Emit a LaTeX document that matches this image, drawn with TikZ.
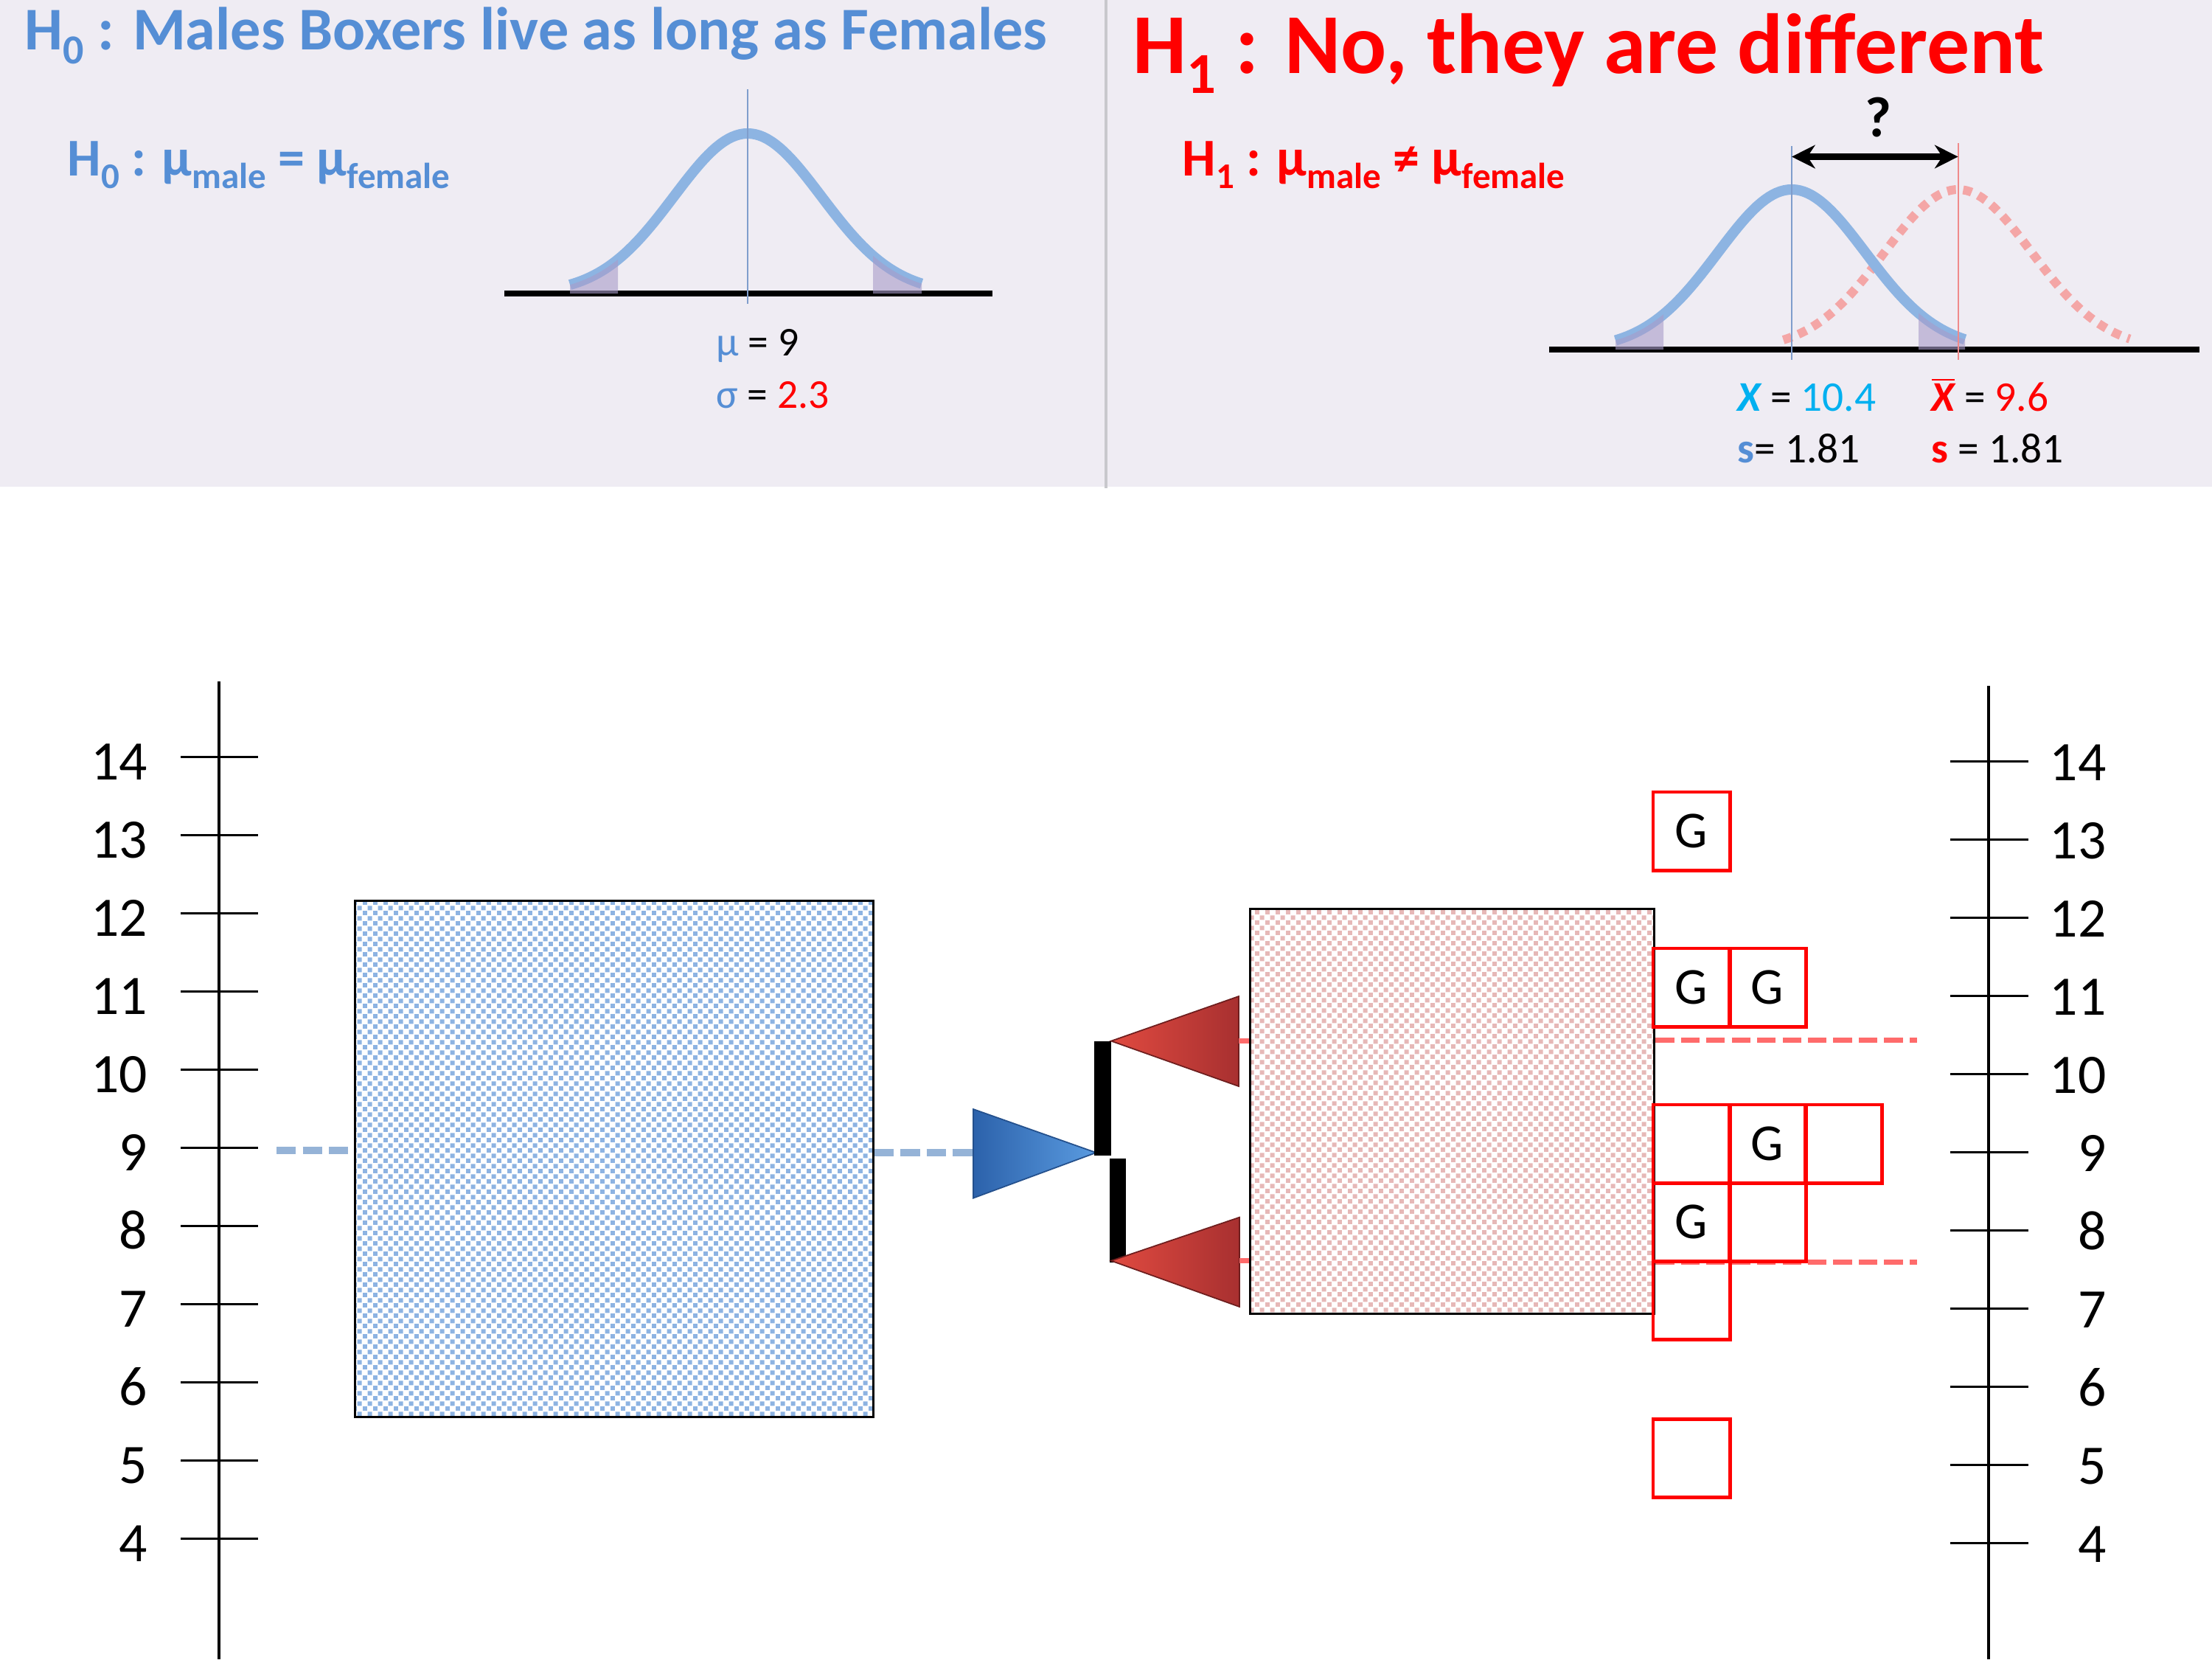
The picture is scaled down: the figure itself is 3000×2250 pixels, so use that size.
\documentclass[tikz,border=0pt]{standalone}
\usepackage{fontspec}
\usepackage{graphicx}
\setmainfont{Carlito}
\usetikzlibrary{arrows.meta,patterns}
\definecolor{hdrbg}{HTML}{EFECF3}
\definecolor{divgray}{HTML}{C8C8CC}
\definecolor{titleblue}{HTML}{558ED5}
\definecolor{curveblue}{HTML}{8DB4E2}
\definecolor{vblue}{HTML}{7F9DCC}
\definecolor{dotred}{HTML}{F4A6A6}
\definecolor{vred}{HTML}{F08A8A}
\definecolor{tailpurple}{HTML}{A89BC9}
\definecolor{statcyan}{HTML}{00B0F0}
\definecolor{dashblue}{HTML}{95B3D7}
\definecolor{dashred}{HTML}{FF6B6B}
\definecolor{patblue}{HTML}{8DB3E2}
\definecolor{patpink}{HTML}{E6B8B7}
\definecolor{triblueL}{HTML}{2C62AB}
\definecolor{triblueR}{HTML}{5A9BE0}
\definecolor{triblueE}{HTML}{24508C}
\definecolor{redL}{HTML}{E04A40}
\definecolor{redR}{HTML}{A83030}
\definecolor{redE}{HTML}{6E1E1E}
\newcommand{\setfs}[1]{\fontsize{#1}{#1}\selectfont}
\newcommand{\lsub}[1]{\raisebox{-0.24em}{\scalebox{0.68}{#1}}}
\pgfdeclarepatternformonly{boxdots}{\pgfpointorigin}{\pgfqpoint{4pt}{4pt}}{\pgfqpoint{4pt}{4pt}}{%
  \pgfpathrectangle{\pgfpointorigin}{\pgfqpoint{1.8pt}{1.8pt}}%
  \pgfpathrectangle{\pgfqpoint{2pt}{2pt}}{\pgfqpoint{1.8pt}{1.8pt}}%
  \pgfusepath{fill}}
\begin{document}
\begin{tikzpicture}[x=0.01cm,y=-0.01cm,
  axisline/.style={line width=1pt,black},
  tickline/.style={line width=1pt,black},
  axlab/.style={font=\setfs{21.5}, inner sep=0pt},
  gauss/.style={line width=4pt,curveblue},
  gaussred/.style={line width=3.4pt,dotred,dash pattern=on 3.4pt off 2.8pt},
  baseln/.style={line width=2.3pt,black},
  tailfill/.style={fill=tailpurple,fill opacity=0.6},
  gbox/.style={draw=red,line width=1.4pt,minimum width=1.04cm,minimum height=1.06cm,inner sep=0pt,font=\setfs{20}},
  bdash/.style={line width=2.8pt,dashblue,dash pattern=on 7.5pt off 2.6pt},
  rdash/.style={line width=2pt,dashred,dash pattern=on 7.2pt off 2.6pt},
  txt/.style={inner sep=0pt,anchor=base west}
]
\useasboundingbox (0,0) rectangle (3000,2250);
% header
\fill[hdrbg] (0,0) rectangle (3000,660);
\draw[line width=1.1pt,divgray] (1500,0) -- (1500,662);

% titles
\node[txt,text=titleblue,font=\setfs{23.4}\bfseries] (t0) at (33,67) {H\lsub{0} : Males Boxers live as long as Females};
\node[txt,text=red,font=\setfs{32.9}\bfseries] (t1) at (1536,99) {H\lsub{1} : No, they are different};
\node[txt,text=titleblue,font=\setfs{20.5}\bfseries] (h0eq) at (91,238) {H\lsub{0} : μ\lsub{male} = μ\lsub{female}};
\node[txt,text=red,font=\setfs{20.5}\bfseries] (h1eq) at (1603,238) {H\lsub{1} : μ\lsub{male} ≠ μ\lsub{female}};

% left panel curve
\draw[baseln] (684,398) -- (1346,398);
\draw[gauss] plot[domain=-2.41:2.36,samples=90] ({1014+100*\x},{398-217*exp(-(\x)^2/2)});
\fill[tailfill] plot[domain=-2.41:-1.76,samples=20] ({1014+100*\x},{398-217*exp(-(\x)^2/2)}) -- (838,398) -- (773,398) -- cycle;
\fill[tailfill] plot[domain=1.70:2.36,samples=20] ({1014+100*\x},{398-217*exp(-(\x)^2/2)}) -- (1250,398) -- (1184,398) -- cycle;
\draw[vblue,line width=0.6pt] (1014,121) -- (1014,412);
\node[txt,font=\setfs{15.8}] (mu) at (971,482) {\textcolor{titleblue}{μ} = 9};
\node[txt,font=\setfs{15.8}] (sig) at (971,553) {\textcolor{titleblue}{σ} = \textcolor{red}{2.3}};

% right panel curves
\draw[baseln] (2101,474) -- (2983,474);
\draw[gaussred] plot[domain=-2.37:2.33,samples=90] ({2655.6+100*\x},{474-217*exp(-(\x)^2/2)});
\draw[gauss] plot[domain=-2.39:2.35,samples=90] ({2430+100*\x},{474-217*exp(-(\x)^2/2)});
\fill[tailfill] plot[domain=-2.39:-1.74,samples=20] ({2430+100*\x},{474-217*exp(-(\x)^2/2)}) -- (2256,474) -- (2191,474) -- cycle;
\fill[tailfill] plot[domain=1.72:2.35,samples=20] ({2430+100*\x},{474-217*exp(-(\x)^2/2)}) -- (2665,474) -- (2602,474) -- cycle;
\draw[vblue,line width=0.6pt] (2430,198) -- (2430,488);
\draw[vred,line width=0.6pt] (2655.6,194) -- (2655.6,488);
\coordinate (al) at (2430,212.5);
\coordinate (ar) at (2655.6,212.5);
\draw[line width=2.4pt,{Stealth[length=9pt,width=9pt]}-{Stealth[length=9pt,width=9pt]}] (al) -- (ar);
\node[inner sep=0pt,anchor=base,font=\setfs{22}\bfseries] (q) at (2547,185) {?};
\node[txt,font=\setfs{16.3}] (xm) at (2356,557) {\textcolor{statcyan}{\bfseries\itshape X} = \textcolor{statcyan}{10.4}};
\node[txt,font=\setfs{16.3}] (xf) at (2619,557) {\textcolor{red}{$\overline{\mbox{\bfseries\itshape X}}$} = \textcolor{red}{9.6}};
\node[txt,font=\setfs{16.3}] (sm) at (2356,627) {\textcolor{titleblue}{\bfseries s}= 1.81};
\node[txt,font=\setfs{16.3}] (sf) at (2619,627) {\textcolor{red}{\bfseries s} = 1.81};

% left axis
\draw[axisline] (297,924) -- (297,2250);
\foreach \v in {4,...,14}{
  \draw[tickline] (245,{1026.6+(14-\v)*106}) -- (350,{1026.6+(14-\v)*106});
  \node[axlab,anchor=base east] (L\v) at (201,{1057.6+(14-\v)*106}) {\v};
}
% right axis
\draw[axisline] (2697,930) -- (2697,2250);
\foreach \v in {4,...,14}{
  \draw[tickline] (2645,{1032.6+(14-\v)*106}) -- (2751,{1032.6+(14-\v)*106});
  \node[axlab,anchor=base east] (R\v) at (2857,{1058.6+(14-\v)*106}) {\v};
}

% blue box
\node[draw=black,line width=0.8pt,pattern=boxdots,pattern color=patblue,minimum width=7.02cm,minimum height=6.99cm,inner sep=0pt] (bbox) at (833,1571.5) {};
\coordinate (dl) at (375,1560);
\draw[bdash] (dl) -- (dl -| bbox.west);
% blue triangle
\coordinate (bt1) at (1320,1504);
\coordinate (bt2) at (1486.6,1563);
\coordinate (bt3) at (1320,1624.6);
\draw[bdash] (bbox.east |- bt2) -- (bt1 |- bt2);
\shade[left color=triblueL,right color=triblueR] (bt1) -- (bt2) -- (bt3) -- cycle;
\draw[triblueE,line width=0.5pt] (bt1) -- (bt2) -- (bt3) -- cycle;
% bars
\fill[black] (1484,1411.6) rectangle (1507,1567);
\fill[black] (1505,1571) rectangle (1527,1711.6);
% red triangles
\shade[left color=redL,right color=redR] (1507,1411.6) -- (1680,1351) -- (1680,1473) -- cycle;
\draw[redE,line width=0.5pt] (1507,1411.6) -- (1680,1351) -- (1680,1473) -- cycle;
\shade[left color=redL,right color=redR] (1507,1709.6) -- (1681,1650.7) -- (1681,1772) -- cycle;
\draw[redE,line width=0.5pt] (1507,1709.6) -- (1681,1650.7) -- (1681,1772) -- cycle;
% pink box
\node[draw=black,line width=0.8pt,pattern=boxdots,pattern color=patpink,minimum width=5.476cm,minimum height=5.482cm,inner sep=0pt] (pbox) at (1969.8,1506.9) {};
\coordinate (ru) at (1680,1411.6);
\coordinate (rl) at (1681,1709.6);
\draw[dashred,line width=2pt] (ru) -- (ru -| pbox.west);
\draw[dashred,line width=2pt] (rl) -- (rl -| pbox.west);
% red dashed lines
\coordinate (du) at (2600,1410);
\coordinate (dd) at (2600,1711);
\draw[rdash] (pbox.east |- du) -- (du);
\draw[rdash] (pbox.east |- dd) -- (dd);
% G boxes
\node[gbox] (g1) at (2294,1127) {G};
\node[gbox] (g2) at (2294,1339) {G};
\node[gbox] (g3) at (2397,1339) {G};
\node[gbox] (g4) at (2294,1551) {};
\node[gbox] (g5) at (2397,1551) {G};
\node[gbox] (g6) at (2500,1551) {};
\node[gbox] (g7) at (2294,1657) {G};
\node[gbox] (g8) at (2397,1657) {};
\node[gbox] (g9) at (2294,1763) {};
\node[gbox] (g10) at (2294,1977.5) {};
\end{tikzpicture}
\end{document}
